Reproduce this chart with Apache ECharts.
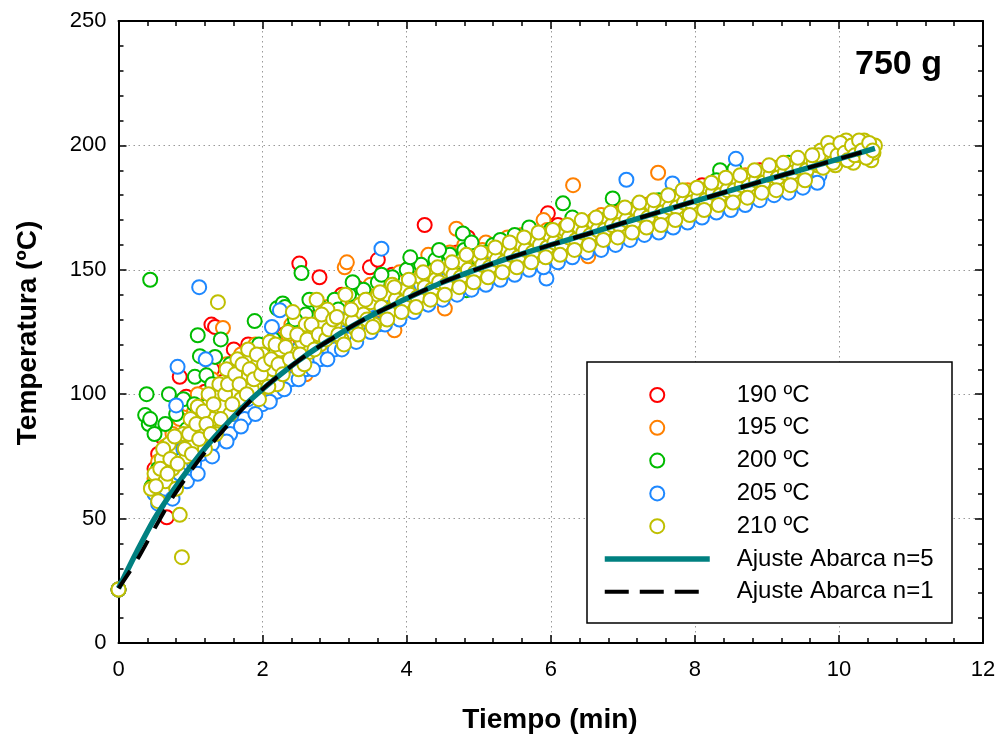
<!DOCTYPE html>
<html><head><meta charset="utf-8">
<script src="https://cdn.jsdelivr.net/npm/echarts@6/dist/echarts.min.js"></script>
<style>html,body{margin:0;padding:0;background:#fff}#c{width:1001px;height:740px}</style>
</head><body><div id="c"></div>
<script>
// ---- data ----
const seriesNames = ['190 ºC','195 ºC','200 ºC','205 ºC','210 ºC'];
const fitNames = ['Ajuste Abarca n=5','Ajuste Abarca n=1'];
const xTickRange = [0, 12, 2];
const yTickRange = [0, 250, 50];

const t190 = [[0,21.5],[0.5,70],[0.55,76],[0.6,83],[0.62,73],[0.67,50.5],[0.7,78],[0.75,85],[0.8,88],[0.85,107],[0.9,82],[0.94,99],[1,86],[1.05,92],[1.1,79],[1.15,96],[1.2,101],[1.25,88],[1.29,128],[1.3,110],[1.34,127],[1.4,98],[1.45,105],[1.5,94],[1.55,112],[1.6,118],[1.65,100],[1.7,106],[1.75,98],[1.8,120],[1.85,104],[1.9,112],[2,108],[2.05,98],[2.1,118],[2.2,112],[2.3,124],[2.4,117],[2.51,152.5],[2.6,121],[2.7,128],[2.79,147],[2.8,124],[2.9,133],[3,126],[3.1,140],[3.2,131],[3.3,143],[3.4,136],[3.49,151],[3.6,154],[3.7,139],[3.8,148],[3.9,141],[4,150],[4.1,144],[4.22,150.6],[4.25,168],[4.4,152],[4.55,147],[4.7,157],[4.85,163],[5,152],[5.06,145],[5.2,158],[5.4,157],[5.6,162],[5.8,160],[5.96,172.7],[6,166],[6.2,164],[6.4,167],[6.6,170],[6.8,169],[7,173],[7.2,172],[7.4,176],[7.6,177],[7.8,179],[8,181],[8.2,181],[8.4,184],[8.6,186],[8.8,187],[9,189],
  [2.15,116],[2.35,120],[2.55,125],[2.75,131],[2.95,129],[3.15,135],[3.35,139],[3.55,141],[3.75,144],[3.95,146],[4.15,148],[4.35,155],[4.6,150],[4.9,158],[5.3,160],[5.7,165],[6.1,168],[6.5,168],[6.9,173],[7.3,176],[7.7,180],[8.1,184],[8.5,187],[8.9,190]];

const t195 = [[0,21.5],[0.5,66],[0.55,73],[0.6,62],[0.65,79],[0.7,70],[0.75,84],[0.8,74],[0.85,90],[0.9,80],[0.95,96],[1,85],[1.1,100],[1.2,90],[1.3,106],[1.4,96],[1.45,126.6],[1.5,112],[1.6,100],[1.7,116],[1.8,104],[1.9,120],[2,108],[2.1,98],[2.2,122],[2.3,110],[2.4,128],[2.5,116],[2.6,108],[2.7,130],[2.8,120],[2.9,135],[3,125],[3.14,151],[3.17,153],[3.2,130],[3.3,140],[3.4,128],[3.5,144],[3.6,134],[3.7,147],[3.8,138],[3.83,125.7],[3.9,149],[4,141],[4.1,152],[4.2,144],[4.3,156],[4.4,147],[4.53,134.4],[4.6,157],[4.69,166.5],[4.7,150],[4.8,160],[5,153],[5.1,161],[5.2,155],[5.4,163],[5.5,157],[5.6,164],[5.8,161],[5.9,170],[6,163],[6.2,167],[6.31,184],[6.4,166],[6.52,155.4],[6.6,170],[6.8,168],[7,174],[7.2,172],[7.4,177],[7.49,189],[7.6,176],[7.8,180],[8,179],[8.2,183],[8.4,182],[8.6,186],[8.8,185],[9,189],[9.2,188],
  [1.05,93],[1.25,98],[1.55,104],[1.75,110],[1.95,114],[2.15,116],[2.35,124],[2.55,126],[2.75,126],[2.95,131],[3.25,136],[3.45,140],[3.65,141],[3.95,145],[4.25,150],[4.45,153],[4.75,154],[5.05,158],[5.35,160],[5.65,160],[5.95,166],[6.3,165],[6.7,172],[7.1,171],[7.5,174],[7.9,182],[8.3,181],[8.7,188],[9.1,191]];

const t200 = [[0,21.5],[0.37,91.6],[0.39,100],[0.42,88],[0.44,90],[0.44,146],[0.46,62.8],[0.5,84],[0.55,70],[0.6,61],[0.65,88],[0.7,100],[0.75,78],[0.8,92],[0.85,82],[0.9,98],[0.95,86],[1.06,107],[1.1,123.7],[1.13,115.3],[1.2,95],[1.22,107.6],[1.25,85],[1.34,115],[1.4,100],[1.42,122],[1.5,92],[1.6,108],[1.7,100],[1.8,114],[1.89,129.4],[1.9,104],[2,118],[2.1,108],[2.2,134.5],[2.28,136.5],[2.3,114],[2.31,135],[2.4,126],[2.5,118],[2.54,148.7],[2.6,132],[2.7,122],[2.8,135],[2.9,126],[3,138],[3.1,128],[3.2,140],[3.3,132],[3.4,142],[3.5,135],[3.6,145],[3.7,138],[3.8,147],[3.9,140],[4,150],[4.1,143],[4.2,152],[4.3,146],[4.4,154],[4.5,148],[4.6,156],[4.78,164.6],[4.83,141.8],[4.8,158],[5,154],[5.2,160],[5.4,158],[5.6,163],[5.8,160],[6,166],[6.17,176.7],[6.2,164],[6.4,168],[6.6,167],[6.86,178.7],[6.8,171],[7,170],[7.2,175],[7.4,173],[7.6,167.9],[7.7,178],[7.8,176],[8,181],[8.2,180],[8.35,190],[8.4,185],[8.55,190.5],[8.6,184],[8.8,188],[9,187],[9.2,191],[9.4,190],
  [1.05,96],[1.3,104],[1.55,112],[1.75,108],[1.95,120],[2.15,122],[2.45,130],[2.65,138],[2.85,131],[3.05,134],[3.25,145],[3.45,138],[3.65,148],[3.85,142],[4.05,155],[4.25,148],[4.45,158],[4.65,152],[4.9,161],[5.1,157],[5.3,162],[5.5,164],[5.7,167],[5.9,164],[6.3,171],[6.5,165],[7.1,174],[7.5,178],[7.9,179],[8.3,186],[8.7,186],[9.1,190],[9.3,193]];

const t205 = [[0,21.5],[0.5,60],[0.55,56],[0.6,66],[0.65,62],[0.7,72],[0.75,58],[0.8,95.5],[0.82,111],[0.85,68],[0.9,78],[0.95,65],[1,84],[1.05,72],[1.1,88],[1.12,143],[1.15,76],[1.2,90],[1.21,114],[1.3,80],[1.35,95],[1.4,86],[1.5,100],[1.55,84],[1.6,92],[1.7,104],[1.75,90],[1.8,98],[1.9,108],[2,96],[2.1,106],[2.13,127],[2.2,101],[2.24,133.7],[2.3,112],[2.4,106],[2.5,118],[2.6,110],[2.7,122],[2.8,114],[2.9,126],[3,118],[3.1,130],[3.2,122],[3.3,133],[3.4,126],[3.5,136],[3.6,128],[3.65,158.5],[3.7,140],[3.8,131],[3.9,142],[4,134],[4.2,144],[4.3,137],[4.4,148],[4.5,140],[4.6,150],[4.7,143],[4.8,147],[5,146],[5.1,152],[5.2,148],[5.4,151],[5.5,157],[5.6,152],[5.8,155],[5.94,146.5],[6,157],[6.1,162],[6.2,158],[6.4,160],[6.5,166],[6.6,161],[6.86,162.6],[6.8,164],[7,166],[7.05,186.2],[7.1,170],[7.2,167],[7.4,169],[7.5,175],[7.6,171],[7.69,184.7],[7.8,173],[8,174],[8.1,180],[8.2,175],[8.4,177],[8.5,183],[8.57,194.6],[8.6,178],[8.8,180],[9,182],[9.1,188],[9.2,184],[9.4,185],[9.5,191],[9.6,187],[9.73,188],
  [1.1,68],[1.3,75],[1.5,81],[1.7,87],[1.9,92],[2.1,97],[2.3,102],[2.5,106],[2.7,110],[2.9,114],[3.1,118],[3.3,121],[3.5,125],[3.7,128],[3.9,130],[4.1,133],[4.3,136],[4.5,138],[4.7,140],[4.9,142],[5.1,144],[5.3,146],[5.5,148],[5.7,150],[5.9,151],[6.1,153],[6.3,155],[6.5,157],[6.7,158],[6.9,160],[7.1,162],[7.3,164],[7.5,165],[7.7,167],[7.9,169],[8.1,171],[8.3,173],[8.5,174],[8.7,176],[8.9,178],[9.1,180],[9.3,181],[9.5,183],[9.7,185]];

const t210 = [[0,21.5],[0.45,62],[0.5,68],[0.55,57],[0.6,74],[0.65,65],[0.7,80],[0.75,70],[0.8,62],[0.85,51.5],[0.88,34.5],[0.9,84],[0.95,75],[1,90],[1.05,80],[1.1,95],[1.15,86],[1.2,78],[1.25,100],[1.3,90],[1.35,84],[1.38,137],[1.4,104],[1.45,95],[1.5,110],[1.55,92],[1.6,100],[1.65,114],[1.7,98],[1.75,107],[1.8,118],[1.85,102],[1.9,111],[1.95,98],[2,116],[2.05,106],[2.1,121],[2.15,110],[2.2,104],[2.25,118],[2.3,112],[2.35,125],[2.42,133],[2.45,116],[2.5,110],[2.55,121],[2.6,128],[2.65,117],[2.7,124],[2.75,138],[2.8,120],[2.85,128],[2.9,134],[2.95,124],[3,128],[3.1,122],[3.15,140],[3.2,130],[3.3,126],[3.35,136],[3.4,132],[3.5,137],[3.55,128],[3.6,140],[3.7,134],[3.8,144],[3.9,138],[4,142],[4.1,136],[4.2,147],[4.3,140],[4.4,146],[4.5,142],[4.6,150],[4.7,146],[4.8,153],[4.9,148],[5,155],[5.1,150],[5.2,157],[5.3,151],[5.4,158],[5.5,154],[5.6,160],[5.7,155],[5.8,162],[5.9,157],[6,163],[6.1,159],[6.2,166],[6.3,161],[6.4,167],[6.5,163],[6.6,169],[6.7,164],[6.8,170],[6.9,166],[7,172],[7.1,168],[7.2,174],[7.3,170],[7.4,176],[7.5,171],[7.6,177],[7.7,173],[7.8,179],[7.9,175],[8,181],[8.1,177],[8.2,182],[8.3,179],[8.4,184],[8.5,180],[8.6,186],[8.7,182],[8.8,188],[8.9,184],[9,189],[9.1,185],[9.2,191],[9.3,187],[9.4,192],[9.5,189],[9.6,194],[9.7,192],[9.75,198],[9.8,194],[9.85,201],[9.9,196],[9.95,192],[10,199],[10.05,195],[10.1,202],[10.15,197],[10.2,193],[10.25,200],[10.3,196],[10.35,202],[10.4,198],[10.45,194],[10.48,197],[10.5,200],
  [0.52,63],[0.58,70],[0.62,78],[0.68,68],[0.72,74],[0.78,83],[0.82,72],[0.92,78],[0.98,84],[1.02,76],[1.08,88],[1.12,82],[1.18,93],[1.22,88],[1.28,84],[1.32,96],[1.42,90],[1.48,100],[1.52,104],[1.58,96],[1.62,108],[1.68,104],[1.72,112],[1.78,100],[1.82,110],[1.88,106],[1.92,116],[1.98,108],[2.02,112],[2.08,103],[2.12,114],[2.18,120],[2.22,112],[2.28,108],[2.32,119],[2.38,114],[2.48,124],[2.52,116],[2.58,112],[2.62,122],[2.68,128],[2.72,118],[2.78,124],[2.82,132],[2.88,122],[2.92,126],[2.98,130],
  [3.05,124],[3.25,129],[3.45,130],[3.65,135],[3.75,133],[3.85,138],[3.95,137],[4.05,140],[4.15,139],[4.25,143],[4.35,142],[4.45,145],[4.55,144],[4.65,148],[4.75,147],[4.85,150],[4.95,149],[5.05,152],[5.15,151],[5.25,154],[5.35,153],[5.45,156],[5.55,155],[5.65,158],[5.75,157],[5.85,160],[5.95,159],[6.05,161],[6.15,160],[6.25,163],[6.35,162],[6.45,165],[6.55,164],[6.65,166],[6.75,166],[6.85,168],[6.95,168],[7.05,170],[7.15,169],[7.25,172],[7.35,171],[7.45,174],[7.55,173],[7.65,175],[7.75,175],[7.85,177],[7.95,177],[8.05,179],[8.15,178],[8.25,181],[8.35,180],[8.45,182],[8.55,182],[8.65,184],[8.75,184],[8.85,186],[8.95,185],[9.05,188],[9.15,187],[9.25,189],[9.35,189],[9.45,191],[9.55,190],[9.65,193],
  [9.72,196],[9.78,191],[9.88,198],[9.92,193],[9.98,196],[10.02,201],[10.08,197],[10.12,194],[10.18,200],[10.22,196],[10.28,202],[10.32,198],[10.38,195],[10.42,201],[10.47,198],
  [3.03,131],[3.13,120],[3.23,134],[3.33,124],[3.43,138],[3.53,127],[3.63,141],[3.73,130],[3.83,143],[3.93,133],[4.03,146],[4.13,135],[4.23,149],[4.33,138],[4.43,151],[4.53,140],[4.63,153],[4.73,143],[4.83,156],[4.93,145],[5.03,157],[5.13,147],[5.23,159],[5.33,149],[5.43,161],[5.53,151],[5.63,163],[5.73,153],[5.83,165],[5.93,155],[6.03,166],[6.13,156],[6.23,168],[6.33,158],[6.43,170],[6.53,160],[6.63,171],[6.73,162],[6.83,173],[6.93,163],[7.03,175],[7.13,165],[7.23,177],[7.33,167],[7.43,178],[7.53,168],[7.63,180],[7.73,170],[7.83,182],[7.93,172],[8.03,183],[8.13,174],[8.23,185],[8.33,176],[8.43,187],[8.53,177],[8.63,188],[8.73,179],[8.83,190],[8.93,181],[9.03,192],[9.13,182],[9.23,193],[9.33,184],[9.43,195],[9.53,186],[9.63,196]];

const fitTime = [0,0.25,0.5,0.75,1,1.25,1.5,1.75,2,2.25,2.5,2.75,3,3.25,3.5,3.75,4,4.5,5,5.5,6,6.5,7,7.5,8,8.5,9,9.5,10,10.5];
const fitN5  = [22,36.5,50,61,71,80,88,95.5,102,108,113.5,118.5,123,127.5,131.5,135,138.5,145,150.5,155.5,160,164.3,168.8,173.2,177.6,181.9,186.2,190.4,194.6,198.8];
const fitN1  = [22,33,46,58.5,69,78.5,87,95,102,108,113.5,118.5,123,127.5,131.5,135,138.5,145,150.5,155.5,160,164.3,168.8,173.2,177.6,181.9,186.2,190.4,194.6,198.8];

// ---- chart ----
const FONT = "'Liberation Sans', Arial, sans-serif";
const colors = ['#ff0000','#ff8000','#00bb00','#1e88ff','#bfbf00'];
const scatterData = [t190,t195,t200,t205,t210];
const chart = echarts.init(document.getElementById('c'), null, {renderer:'canvas'});

const gridLine = {show:true, lineStyle:{color:'#999', width:1, type:[1.5,3.5]}};
const axisLine = {show:true, onZero:false, lineStyle:{color:'#000', width:2}};
const tick = {show:true, inside:true, length:8, lineStyle:{color:'#000', width:1.5}};
const minor = {show:true, splitNumber:5, length:5, lineStyle:{color:'#000', width:1.5}};

const series = scatterData.map((d,i)=>({
  name: seriesNames[i], type:'scatter', data:d, symbol:'emptyCircle', symbolSize:14,
  clip:false,
  itemStyle:{color:colors[i], borderColor:colors[i], borderWidth:1.5, opacity:1},
  emphasis:{disabled:true}, z:2
}));
series.push({
  name: fitNames[0], type:'line', data: fitTime.map((t,i)=>[t,fitN5[i]]), smooth:0.3,
  symbol:'none', lineStyle:{color:'#008080', width:5.5}, itemStyle:{color:'#008080'}, z:5
});
series.push({
  name: fitNames[1], type:'line', data: fitTime.map((t,i)=>[t,fitN1[i]]), smooth:0.3,
  symbol:'none', lineStyle:{color:'#000', width:4, type:[21,14]}, itemStyle:{color:'#000'}, z:6
});

const hiddenSym = {color:'rgba(0,0,0,0)', borderColor:'rgba(0,0,0,0)', borderWidth:0, opacity:0};

chart.setOption({
  animation:false,
  backgroundColor:'#fff',
  grid:{left:118.5, right:18, top:21, bottom:97, containLabel:false},
  xAxis:[
    {type:'value', min:xTickRange[0], max:xTickRange[1], interval:xTickRange[2], position:'bottom',
     axisLine, axisTick:tick, minorTick:minor, splitLine:gridLine,
     axisLabel:{color:'#000', fontSize:22, fontFamily:FONT, margin:16}},
    {type:'value', min:xTickRange[0], max:xTickRange[1], interval:xTickRange[2], position:'top',
     axisLine, axisTick:tick, minorTick:minor, splitLine:{show:false}, axisLabel:{show:false}}
  ],
  yAxis:[
    {type:'value', min:yTickRange[0], max:yTickRange[1], interval:yTickRange[2], position:'left',
     axisLine, axisTick:tick, minorTick:minor, splitLine:gridLine,
     axisLabel:{color:'#000', fontSize:22, fontFamily:FONT, margin:12}},
    {type:'value', min:yTickRange[0], max:yTickRange[1], interval:yTickRange[2], position:'right',
     axisLine, axisTick:tick, minorTick:minor, splitLine:{show:false}, axisLabel:{show:false}}
  ],
  legend:{
    orient:'vertical', left:597, top:378, itemWidth:105, itemHeight:14, itemGap:8.8,
    data:[...seriesNames.map(n=>({name:n})),
      {name:fitNames[0], itemStyle:hiddenSym, lineStyle:{color:'#008080', width:5.5}},
      {name:fitNames[1], itemStyle:hiddenSym, lineStyle:{color:'#000', width:4, type:[24,11]}}],
    selectedMode:false,
    textStyle:{color:'#000', fontSize:24, fontFamily:FONT, padding:[0,0,0,22]},
    z:10
  },
  graphic:[
    {type:'rect', shape:{x:587, y:362, width:365, height:261}, style:{fill:'#fff', stroke:'#000', lineWidth:1.5}, z:8},
    {type:'text', x:855, y:65, style:{text:'750 g', font:"bold 34px "+FONT, fill:'#000', textVerticalAlign:'middle'}, z:10},
    {type:'text', x:550, y:720, style:{text:'Tiempo (min)', font:"bold 28px "+FONT, fill:'#000', textAlign:'center', textVerticalAlign:'middle'}, z:10},
    {type:'text', x:28, y:333, rotation:Math.PI/2, style:{text:'Temperatura (ºC)', font:"bold 28px "+FONT, fill:'#000', textAlign:'center', textVerticalAlign:'middle'}, z:10}
  ],
  series
});
</script></body></html>
